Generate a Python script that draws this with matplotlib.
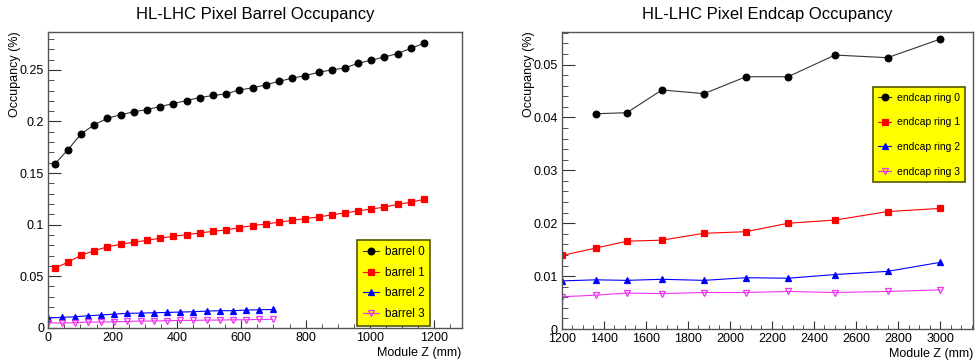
import matplotlib.pyplot as plt
from matplotlib.ticker import MultipleLocator
import numpy as np

plt.rcParams['font.family'] = ['Liberation Sans', 'DejaVu Sans']

# barrel layers: module z (mm) and occupancy (%)
z_b01 = 20 + 41 * np.arange(29)
z_b23 = 41 * np.arange(18)
barrel0 = [0.1587, 0.1726, 0.188, 0.1968, 0.2032, 0.2065, 0.2094, 0.2116, 0.2145, 0.2174,
           0.2203, 0.2232, 0.2252, 0.2268, 0.2306, 0.2326, 0.2355, 0.239, 0.2419, 0.2445,
           0.2477, 0.25, 0.2519, 0.2565, 0.2594, 0.2626, 0.2658, 0.271, 0.2758]
barrel1 = [0.0577, 0.0635, 0.0703, 0.0748, 0.0784, 0.081, 0.0829, 0.0848, 0.0868, 0.0887,
           0.0903, 0.0919, 0.0935, 0.0948, 0.0971, 0.099, 0.1006, 0.1023, 0.1042, 0.1058,
           0.1074, 0.1094, 0.1113, 0.1132, 0.1152, 0.1168, 0.1197, 0.1216, 0.1245]
barrel2 = [0.0094, 0.0100, 0.0106, 0.0116, 0.0123, 0.0132, 0.0139, 0.0142, 0.0145, 0.0148,
           0.0152, 0.0155, 0.0161, 0.0165, 0.0165, 0.0171, 0.0174, 0.0177]
barrel3 = [0.0048, 0.0045, 0.0048, 0.0055, 0.0055, 0.0058, 0.0061, 0.0065, 0.0065, 0.0068,
           0.0071, 0.0071, 0.0074, 0.0074, 0.0077, 0.0077, 0.0081, 0.0081]

# endcap rings
z_ec = [1200, 1362, 1510, 1677, 1877, 2077, 2277, 2500, 2750, 3000]
ring0 = [0.0407, 0.0409, 0.0452, 0.0445, 0.0477, 0.0477, 0.0518, 0.0513, 0.0548]
ring1 = [0.0139, 0.0153, 0.0166, 0.0168, 0.0181, 0.0184, 0.0200, 0.0206, 0.0222, 0.0228]
ring2 = [0.0091, 0.0093, 0.0092, 0.0094, 0.0092, 0.0097, 0.0096, 0.0103, 0.0109, 0.0126]
ring3 = [0.0061, 0.0064, 0.0068, 0.0067, 0.0069, 0.0069, 0.0071, 0.0069, 0.0071, 0.0074]

red, blue, mag = '#ff0000', '#0000ff', '#ee33ee'

fig = plt.figure(figsize=(9.76, 3.61), dpi=100)
ax1 = fig.add_axes([0.0495, 0.0922, 0.4235, 0.8198])
ax2 = fig.add_axes([0.5755, 0.0886, 0.4215, 0.8234])


def draw(ax, x, y, color, marker, label, face=None):
    ax.plot(x, y, color=color, lw=0.8, marker=marker, ms=4.8,
            mfc=face if face else color, mec=face if face == 'black' else color,
            mew=0.9, label=label)


draw(ax1, z_b01, barrel0, '#333333', 'o', 'barrel 0', face='black')
draw(ax1, z_b01, barrel1, red, 's', 'barrel 1')
draw(ax1, z_b23, barrel2, blue, '^', 'barrel 2')
draw(ax1, z_b23, barrel3, mag, 'v', 'barrel 3', face='none')

draw(ax2, z_ec[1:], ring0, '#333333', 'o', 'endcap ring 0', face='black')
draw(ax2, z_ec, ring1, red, 's', 'endcap ring 1')
draw(ax2, z_ec, ring2, blue, '^', 'endcap ring 2')
draw(ax2, z_ec, ring3, mag, 'v', 'endcap ring 3', face='none')

ax1.set_xlim(0, 1285)
ax1.set_ylim(0, 0.287)
ax2.set_xlim(1200, 3157)
ax2.set_ylim(0, 0.0562)

ax1.xaxis.set_major_locator(MultipleLocator(200))
ax1.xaxis.set_minor_locator(MultipleLocator(50))
ax1.yaxis.set_major_locator(MultipleLocator(0.05))
ax1.yaxis.set_minor_locator(MultipleLocator(0.01))
ax2.xaxis.set_major_locator(MultipleLocator(200))
ax2.xaxis.set_minor_locator(MultipleLocator(50))
ax2.yaxis.set_major_locator(MultipleLocator(0.01))
ax2.yaxis.set_minor_locator(MultipleLocator(0.002))

panels = [(ax1, 'HL-LHC Pixel Barrel Occupancy', (0.748, 0.296), 8.5, 0.74),
          (ax2, 'HL-LHC Pixel Endcap Occupancy', (0.756, 0.813), 7.5, 1.42)]
for ax, title, leg_box, leg_fs, leg_sp in panels:
    for s in ax.spines.values():
        s.set_color('#555555')
        s.set_linewidth(1.0)
    ax.tick_params(which='both', direction='in', top=False, right=False,
                   labelsize=9, pad=3, color='#333333')
    ax.tick_params(axis='y', which='major', length=9)
    ax.tick_params(axis='y', which='minor', length=4.5)
    ax.tick_params(axis='x', which='major', length=6)
    ax.tick_params(axis='x', which='minor', length=3)
    ax.set_title(title, fontsize=12, pad=9)
    ax.set_xlabel('Module Z (mm)', fontsize=9, loc='right', labelpad=2)
    ax.set_ylabel('Occupancy (%)', fontsize=9, loc='top', labelpad=-1)
    ax.yaxis.set_major_formatter(plt.FuncFormatter(lambda v, p: '%g' % round(v, 4)))
    ax.xaxis.set_major_formatter(plt.FuncFormatter(lambda v, p: '%d' % v))
    leg = ax.legend(loc='upper left', bbox_to_anchor=leg_box, borderaxespad=0,
                    fontsize=leg_fs, frameon=True, fancybox=False, facecolor='#ffff00',
                    edgecolor='#555500', framealpha=1, handlelength=1.3,
                    labelspacing=leg_sp, borderpad=0.5, handletextpad=0.5)
    leg.get_frame().set_linewidth(1.2)

fig.savefig('out.png', dpi=100)
